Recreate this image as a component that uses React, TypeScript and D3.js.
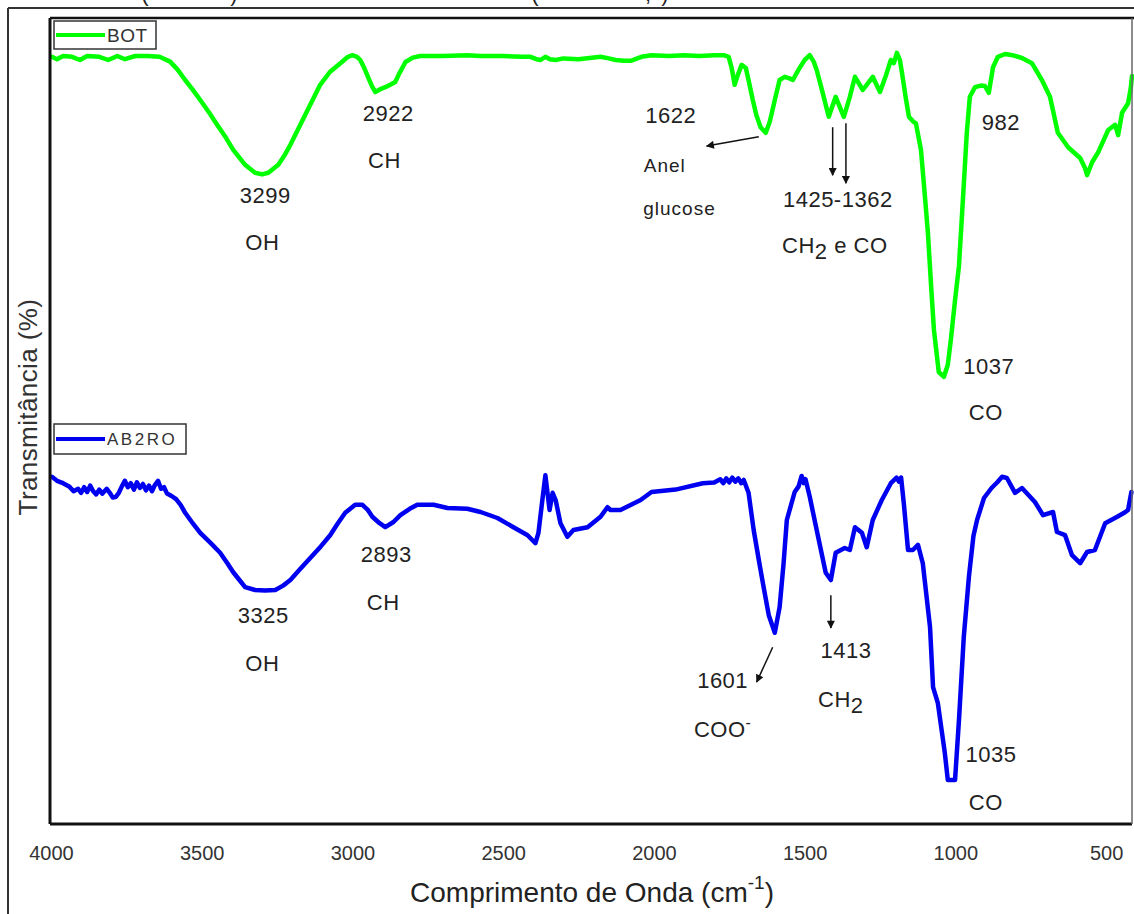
import React, { useEffect, useRef } from 'react';
import * as d3 from 'd3';

// wavenumber (cm-1), transmittance (arbitrary %, series offset as in the figure)
const botSpectrum: [number, number][] = [
  [3997, 95.9], [3980, 95.6], [3960, 96.0], [3930, 95.9], [3904, 95.5], [3880, 96.0],
  [3840, 95.9], [3810, 95.5], [3780, 96.0], [3755, 95.6], [3720, 96.0], [3680, 96.0],
  [3640, 95.9], [3605, 95.3], [3580, 94.3], [3555, 93.0], [3530, 91.8], [3505, 90.5],
  [3475, 88.9], [3449, 87.4], [3420, 85.8], [3396, 84.3], [3375, 83.3], [3356, 82.4],
  [3323, 81.4], [3300, 81.2], [3279, 81.4], [3246, 82.4], [3225, 83.6], [3206, 84.9],
  [3173, 87.4], [3140, 89.9], [3107, 92.4], [3075, 94.0], [3040, 95.1], [3015, 95.9],
  [3000, 96.1], [2985, 95.9], [2974, 95.5], [2962, 94.6], [2951, 93.6], [2935, 92.2],
  [2924, 91.5], [2905, 91.9], [2891, 92.1], [2870, 92.5], [2858, 92.75], [2845, 93.8],
  [2824, 95.25], [2800, 95.8], [2775, 96.0], [2700, 96.0], [2620, 96.1], [2575, 96.0],
  [2500, 96.0], [2440, 95.9], [2409, 95.9], [2390, 95.6], [2376, 95.5], [2360, 95.9],
  [2345, 95.6], [2326, 95.5], [2300, 95.7], [2250, 95.6], [2177, 95.9], [2150, 95.7],
  [2127, 95.5], [2100, 95.4], [2077, 95.4], [2055, 95.7], [2041, 95.9], [2008, 96.1],
  [1950, 96.0], [1900, 96.1], [1850, 96.0], [1800, 96.1], [1768, 96.1], [1752, 95.9],
  [1742, 94.5], [1732, 92.4], [1722, 93.6], [1709, 94.9], [1695, 94.5], [1685, 92.8],
  [1672, 90.5], [1660, 88.6], [1646, 87.1], [1629, 86.4], [1616, 87.75], [1608, 89.0],
  [1599, 90.5], [1590, 91.9], [1583, 93.0], [1566, 93.4], [1550, 93.2], [1539, 93.0],
  [1520, 94.3], [1500, 95.5], [1483, 96.1], [1470, 95.3], [1460, 94.25], [1440, 91.4],
  [1420, 88.4], [1397, 90.9], [1370, 88.4], [1350, 90.9], [1333, 93.4], [1307, 91.75],
  [1274, 93.4], [1250, 91.5], [1230, 93.6], [1214, 95.5], [1204, 95.1], [1194, 96.4],
  [1184, 95.5], [1177, 93.9], [1165, 90.9], [1154, 88.4], [1140, 87.8], [1131, 87.6],
  [1114, 84.25], [1100, 78.0], [1091, 73.9], [1080, 67.0], [1071, 61.75], [1055, 56.5],
  [1038, 55.9], [1025, 57.4], [1015, 60.5], [1001, 65.5], [988, 69.75], [975, 78.0],
  [962, 86.4], [952, 90.9], [935, 92.1], [915, 92.3], [902, 92.25], [889, 91.4],
  [875, 94.6], [859, 95.9], [835, 96.25], [810, 96.1], [779, 95.75], [746, 95.1],
  [713, 93.0], [686, 90.9], [660, 86.4], [626, 84.6], [586, 83.25], [570, 82.0],
  [563, 81.1], [546, 82.75], [527, 83.9], [493, 86.75], [470, 87.4], [460, 86.1],
  [447, 88.9], [427, 90.1], [418, 92.0], [414, 93.5],
];

const ab2roSpectrum: [number, number][] = [
  [3997, 43.4], [3980, 42.9], [3960, 42.6], [3940, 42.2], [3925, 41.6], [3910, 41.9],
  [3900, 41.4], [3890, 42.1], [3880, 41.5], [3870, 42.3], [3860, 41.6], [3850, 41.2],
  [3840, 41.8], [3830, 41.3], [3815, 41.9], [3805, 41.4], [3795, 40.8], [3785, 40.9],
  [3775, 41.4], [3765, 42.2], [3755, 42.9], [3745, 42.1], [3735, 42.6], [3725, 41.8],
  [3715, 42.7], [3705, 42.0], [3695, 42.5], [3685, 41.7], [3675, 42.3], [3665, 41.6],
  [3655, 42.4], [3645, 42.9], [3635, 41.9], [3625, 42.1], [3615, 41.3], [3600, 41.0],
  [3585, 40.6], [3570, 39.9], [3555, 38.9], [3530, 37.6], [3505, 36.4], [3470, 35.1],
  [3439, 33.9], [3415, 32.6], [3396, 31.5], [3375, 30.5], [3356, 29.6], [3323, 29.25],
  [3290, 29.2], [3256, 29.25], [3230, 29.8], [3206, 30.5], [3175, 31.8], [3140, 33.25],
  [3105, 34.7], [3074, 36.1], [3050, 37.5], [3024, 38.9], [2991, 39.9], [2967, 39.9],
  [2950, 39.3], [2934, 38.4], [2910, 37.6], [2891, 37.1], [2864, 37.75], [2841, 38.6],
  [2810, 39.4], [2785, 39.9], [2731, 39.9], [2685, 39.5], [2619, 39.4], [2575, 39.0],
  [2519, 38.25], [2466, 37.1], [2419, 36.1], [2393, 35.1], [2383, 36.4], [2366, 41.75],
  [2360, 43.6], [2353, 41.4], [2346, 39.25], [2336, 41.4], [2326, 40.5], [2310, 37.6],
  [2287, 35.9], [2267, 36.75], [2220, 37.1], [2177, 38.4], [2154, 39.6], [2144, 39.25],
  [2111, 39.25], [2044, 40.5], [2008, 41.5], [1928, 41.8], [1838, 42.6], [1800, 42.7],
  [1780, 43.1], [1770, 42.6], [1760, 43.2], [1750, 42.7], [1740, 43.3], [1730, 42.8],
  [1720, 43.2], [1710, 42.6], [1702, 43.0], [1686, 41.4], [1669, 36.75], [1652, 33.0],
  [1636, 29.6], [1619, 26.1], [1599, 23.9], [1583, 27.1], [1570, 32.5], [1559, 38.0],
  [1533, 41.5], [1520, 42.2], [1510, 43.5], [1503, 42.6], [1497, 43.1], [1483, 40.9],
  [1460, 36.75], [1430, 31.4], [1413, 30.5], [1397, 33.9], [1367, 34.5], [1350, 34.25],
  [1333, 37.1], [1310, 36.4], [1294, 34.6], [1274, 38.0], [1244, 40.5], [1214, 42.6],
  [1195, 43.3], [1187, 42.8], [1180, 43.3], [1171, 40.1], [1157, 34.25], [1141, 34.25],
  [1124, 34.9], [1108, 32.6], [1084, 24.6], [1074, 17.1], [1058, 15.1], [1035, 8.9],
  [1025, 5.5], [1001, 5.5], [988, 13.0], [972, 23.4], [955, 30.9], [940, 36.0],
  [928, 38.0], [905, 40.75], [880, 42.0], [860, 42.75], [845, 43.4], [829, 43.25],
  [802, 41.4], [779, 42.0], [736, 40.25], [709, 38.6], [676, 39.0], [663, 36.5],
  [636, 36.1], [613, 33.6], [586, 32.6], [563, 34.0], [537, 34.25], [503, 37.6],
  [463, 38.4], [440, 38.9], [427, 39.25], [416, 41.5],
];

const seriesNames = ['BOT', 'AB2RO'];
const seriesColors = ['#00ff00', '#0000f0'];
const xTicks = [4000, 3500, 3000, 2500, 2000, 1500, 1000, 500];

// peak labels placed at (wavenumber, transmittance)
interface PeakLabel {
  text: string;
  w: number;
  t: number;
  sub?: string;
  sup?: string;
  tail?: string;
  small?: boolean;
}
const peakLabels: PeakLabel[] = [
  { text: '3299', w: 3289, t: 77.6 },
  { text: 'OH', w: 3299, t: 71.75 },
  { text: '2922', w: 2881, t: 87.9 },
  { text: 'CH', w: 2894, t: 82.0 },
  { text: '1622', w: 1944, t: 87.6 },
  { text: 'Anel', w: 1964, t: 81.5, small: true },
  { text: 'glucose', w: 1915, t: 76.1, small: true },
  { text: '1425-1362', w: 1390, t: 77.1 },
  { text: 'CH', sub: '2', tail: ' e CO', w: 1400, t: 71.4 },
  { text: '982', w: 849, t: 86.75 },
  { text: '1037', w: 889, t: 56.25 },
  { text: 'CO', w: 899, t: 50.5 },
  { text: '3325', w: 3296, t: 25.1 },
  { text: 'OH', w: 3299, t: 19.1 },
  { text: '2893', w: 2888, t: 32.75 },
  { text: 'CH', w: 2898, t: 26.75 },
  { text: '1601', w: 1772, t: 17.0 },
  { text: 'COO', sup: '-', w: 1772, t: 10.9 },
  { text: '1413', w: 1363, t: 20.75 },
  { text: 'CH', sub: '2', w: 1380, t: 14.6 },
  { text: '1035', w: 882, t: 7.75 },
  { text: 'CO', w: 899, t: 1.75 },
];

// arrows: [w1, t1] -> [w2, t2]
const peakArrows: [number, number, number, number][] = [
  [1652, 85.9, 1825, 84.75],
  [1407, 87.1, 1407, 81.1],
  [1363, 87.6, 1363, 80.1],
  [1606, 22.1, 1659, 17.75],
  [1413, 28.6, 1413, 24.5],
];

const FONT = '"Liberation Sans", Arial, sans-serif';

const App: React.FC = () => {
  const svgRef = useRef<SVGSVGElement | null>(null);

  useEffect(() => {
    if (!svgRef.current) return;
    const svg = d3.select(svgRef.current);
    svg.selectAll('*').remove();

    const left = 50;
    const right = 1132;
    const top = 18;
    const bottom = 824;

    const x = d3.scaleLinear().domain([4000, 414]).range([51, 1132]);
    const y = d3.scaleLinear().domain([0, 101]).range([824, 16]);

    svg.append('rect').attr('width', 1134).attr('height', 914).attr('fill', '#fff');

    const defs = svg.append('defs');
    defs
      .append('marker')
      .attr('id', 'head')
      .attr('viewBox', '0 0 10 10')
      .attr('refX', 9)
      .attr('refY', 5)
      .attr('markerWidth', 11)
      .attr('markerHeight', 8)
      .attr('markerUnits', 'userSpaceOnUse')
      .attr('orient', 'auto')
      .append('path')
      .attr('d', 'M0,0 L10,5 L0,10 Z')
      .attr('fill', '#111');

    // caption above the figure, cut off by the crop (only the descenders show)
    const caption = svg.append('g').style('font-family', FONT).style('font-size', '22px').attr('fill', '#222');
    [['(', 145], [')', 234], ['(', 535], [',', 648], [')', 665]].forEach(([s, px]) => {
      caption.append('text').attr('x', px as number).attr('y', 1).attr('text-anchor', 'middle').text(s as string);
    });

    // outer frame
    svg.append('line').attr('x1', 8).attr('x2', 8).attr('y1', 8).attr('y2', 914).attr('stroke', '#333').attr('stroke-width', 2);
    svg.append('line').attr('x1', 8).attr('x2', 1134).attr('y1', 8).attr('y2', 8).attr('stroke', '#333').attr('stroke-width', 2);

    // spectra
    const line = d3
      .line<[number, number]>()
      .x((d) => x(d[0]))
      .y((d) => y(d[1]));

    [botSpectrum, ab2roSpectrum].forEach((data, i) => {
      svg
        .append('path')
        .datum(data)
        .attr('d', line)
        .attr('fill', 'none')
        .attr('stroke', seriesColors[i])
        .attr('stroke-width', 4.5)
        .attr('stroke-linejoin', 'round')
        .attr('stroke-linecap', 'round');
    });

    // plot frame
    svg.append('line').attr('x1', left).attr('x2', 1134).attr('y1', top).attr('y2', top).attr('stroke', '#111').attr('stroke-width', 2.5);
    svg.append('line').attr('x1', left).attr('x2', left).attr('y1', top).attr('y2', bottom).attr('stroke', '#111').attr('stroke-width', 3);
    svg.append('line').attr('x1', left).attr('x2', right).attr('y1', bottom).attr('y2', bottom).attr('stroke', '#111').attr('stroke-width', 3);
    svg.append('line').attr('x1', right).attr('x2', right).attr('y1', top).attr('y2', bottom).attr('stroke', '#666').attr('stroke-width', 1.5);

    // legends
    const legendBoxes = [
      { y: 21, h: 28, w: 102, size: 19, ls: 0.5 },
      { y: 424, h: 30, w: 132, size: 17, ls: 2.5 },
    ];
    legendBoxes.forEach((b, i) => {
      const g = svg.append('g');
      g.append('rect').attr('x', 54).attr('y', b.y).attr('width', b.w).attr('height', b.h).attr('fill', '#fff').attr('stroke', '#333').attr('stroke-width', 1.5);
      g.append('line').attr('x1', 56).attr('x2', 105).attr('y1', b.y + b.h / 2).attr('y2', b.y + b.h / 2).attr('stroke', seriesColors[i]).attr('stroke-width', 4);
      g.append('text')
        .attr('x', 107)
        .attr('y', b.y + b.h / 2 + b.size * 0.36)
        .style('font-family', FONT)
        .style('font-size', `${b.size}px`)
        .style('letter-spacing', `${b.ls}px`)
        .attr('fill', '#333')
        .text(seriesNames[i]);
    });

    // x axis labels (no tick marks, no domain line)
    const axis = d3.axisBottom(x).tickValues(xTicks).tickSize(0).tickPadding(22).tickFormat((d) => String(d));
    const ax = svg.append('g').attr('transform', `translate(0,${bottom})`).call(axis);
    ax.select('.domain').remove();
    ax.selectAll('text').style('font-family', FONT).style('font-size', '20px').attr('fill', '#333');

    // axis titles
    const xt = svg
      .append('text')
      .attr('x', 592)
      .attr('y', 902)
      .attr('text-anchor', 'middle')
      .style('font-family', FONT)
      .style('font-size', '28px')
      .attr('fill', '#222');
    xt.append('tspan').text('Comprimento de Onda (cm');
    xt.append('tspan').attr('dy', -13).style('font-size', '19px').text('-1');
    xt.append('tspan').attr('dy', 13).text(')');

    svg
      .append('text')
      .attr('transform', 'translate(37,407) rotate(-90)')
      .attr('text-anchor', 'middle')
      .style('font-family', FONT)
      .style('font-size', '26px')
      .style('letter-spacing', '0.4px')
      .attr('fill', '#333')
      .text('Transmitância (%)');

    // peak labels
    peakLabels.forEach((p) => {
      const t = svg
        .append('text')
        .attr('x', x(p.w))
        .attr('y', y(p.t))
        .attr('text-anchor', 'middle')
        .style('font-family', FONT)
        .style('font-size', p.small ? '19px' : '22px')
        .style('letter-spacing', p.small ? '1px' : '0.5px')
        .attr('fill', '#222');
      t.append('tspan').text(p.text);
      if (p.sub) {
        t.append('tspan').attr('dy', 6).text(p.sub);
        if (p.tail) t.append('tspan').attr('dy', -6).text(p.tail);
      }
      if (p.sup) {
        t.append('tspan').attr('dy', -9).style('font-size', '16px').text(p.sup);
      }
    });

    // arrows
    peakArrows.forEach(([w1, t1, w2, t2]) => {
      svg
        .append('line')
        .attr('x1', x(w1))
        .attr('y1', y(t1))
        .attr('x2', x(w2))
        .attr('y2', y(t2))
        .attr('stroke', '#111')
        .attr('stroke-width', 1.5)
        .attr('marker-end', 'url(#head)');
    });
  }, []);

  return (
    <svg
      ref={svgRef}
      width={1134}
      height={914}
      style={{ position: 'absolute', left: 0, top: 0, display: 'block' }}
    />
  );
};

export default App;
